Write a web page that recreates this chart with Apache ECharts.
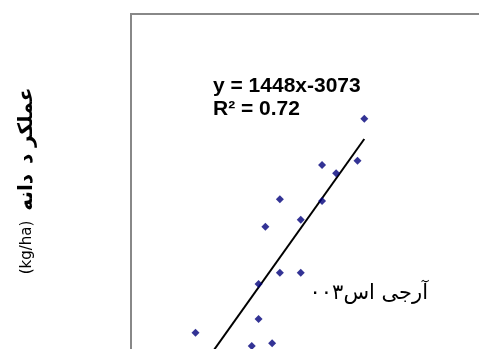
<!DOCTYPE html>
<html>
<head>
<meta charset="utf-8">
<script src="https://cdn.jsdelivr.net/npm/echarts@6/dist/echarts.min.js"></script>
<style>html,body{margin:0;padding:0;background:#fff}#c{width:479px;height:349px}</style>
</head>
<body>
<div id="c"></div>
<script>
// Observed points (x, grain yield kg/ha) – visible part of the chart
const xValues = [5.81, 5.67, 4.94, 5.23, 4.07, 4.94, 4.50, 3.77, 4.07, 4.50, 3.63, 3.63, 2.33, 3.91, 3.49];
const yValues = [5772, 4879, 4787, 4611, 4057, 4021, 3623, 3474, 2496, 2496, 2255, 1511, 1219, 994, 936];
// Regression reported on chart: y = 1448x - 3073, R² = 0.72
const slope = 1448;
const intercept = -3073;
const equationText = 'y = 1448x-3073';
const r2Text = 'R\u00B2 = 0.72';
const pointLabel = 'آرجی اس۰۰۳';
const yTitleUnit = '(kg/ha)';
const yTitleWords = ['دانه', 'د', 'عملکر']; // drawn bottom-to-top

const points = xValues.map((x, i) => [x, yValues[i]]);
const xMin = Math.min(...xValues), xMax = Math.max(...xValues);
const trend = [[xMin, slope * xMin + intercept], [xMax, slope * xMax + intercept]];

const chart = echarts.init(document.getElementById('c'));
chart.setOption({
  animation: false,
  grid: { left: 131, top: 14, width: 485, height: 376, outerBoundsMode: 'none', containLabel: false, show: true, borderColor: '#888', borderWidth: 2, backgroundColor: '#fff' },
  xAxis: { type: 'value', min: 1, max: 11, axisLine: { show: false }, axisTick: { show: false }, axisLabel: { show: false }, splitLine: { show: false } },
  yAxis: { type: 'value', min: 0, max: 8000, axisLine: { show: false }, axisTick: { show: false }, axisLabel: { show: false }, splitLine: { show: false } },
  series: [
    { type: 'line', data: trend, symbol: 'none', lineStyle: { color: '#000', width: 2 }, z: 2 },
    { type: 'scatter', data: points, symbol: 'diamond', symbolSize: 8, itemStyle: { color: '#00007a' }, z: 3 }
  ],
  graphic: [
    { type: 'text', x: 213, y: 76, style: { text: equationText, font: 'bold 21px "Liberation Sans", Arial, sans-serif', fill: '#000', textBaseline: 'alphabetic' } },
    { type: 'text', x: 213, y: 99, style: { text: r2Text, font: 'bold 21px "Liberation Sans", Arial, sans-serif', fill: '#000', textBaseline: 'alphabetic' } },
    { type: 'text', x: 428, y: 283, style: { text: pointLabel, font: '21px "DejaVu Sans", sans-serif', fill: '#000', textAlign: 'right', textBaseline: 'alphabetic' } },
    { type: 'text', x: 27, y: 181, rotation: Math.PI / 2, style: {
        text: '{u|' + yTitleUnit + '}   {a|' + yTitleWords[0] + '}   {a|' + yTitleWords[1] + '}  {a|' + yTitleWords[2] + '}',
        align: 'center', verticalAlign: 'middle', fill: '#000',
        rich: {
          u: { fontFamily: '"DejaVu Sans", sans-serif', fontSize: 15, fill: '#000' },
          a: { fontFamily: '"DejaVu Sans", sans-serif', fontSize: 20, fontWeight: 'bold', fill: '#000' }
        }
      } }
  ]
});
</script>
</body>
</html>
